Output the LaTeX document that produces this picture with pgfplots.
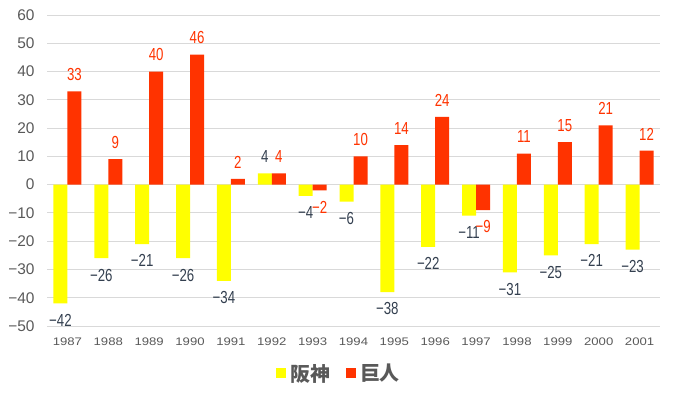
\documentclass[border=0pt]{standalone}
\usepackage{pgfplots}
\pgfplotsset{compat=1.18}
\usepackage{pgfplotstable}
\usepackage{fontspec}
\setmainfont{Liberation Sans}
\newfontfamily\numfont[FakeStretch=0.76]{Liberation Sans}
\newfontfamily\widefont[FakeStretch=1.2]{Liberation Sans}
\newfontfamily\jpfont{Noto Sans CJK JP}
\definecolor{hanshin}{HTML}{FFFF00}
\definecolor{kyojin}{HTML}{FF3300}
\definecolor{labdark}{HTML}{333F4F}
\definecolor{tickgray}{HTML}{595959}
\definecolor{gridgray}{HTML}{D9D9D9}

\pgfplotstableread{
x y lab
0 -42 −42
1 -26 −26
2 -21 −21
3 -26 −26
4 -34 −34
5 4 4
6 -4 −4
7 -6 −6
8 -38 −38
9 -22 −22
10 -11 −11
11 -31 −31
12 -25 −25
13 -21 −21
14 -23 −23
}\hanshindata

\pgfplotstableread{
x y lab
0 33 33
1 9 9
2 40 40
3 46 46
4 2 2
5 4 4
6 -2 −2
7 10 10
8 14 14
9 24 24
10 -9 −9
11 11 11
12 15 15
13 21 21
14 12 12
}\kyojindata

\begin{document}
\begin{tikzpicture}
\begin{axis}[
  scale only axis,
  width=613bp, height=311bp,
  at={(0,0)}, anchor=south west,
  ybar=0pt, bar width=14bp,
  xmin=-0.5, xmax=14.5,
  ymin=-50, ymax=60,
  ytick={-50,-40,...,60},
  yticklabels={−50,−40,−30,−20,−10,0,10,20,30,40,50,60},
  xtick={0,...,14},
  xticklabels={1987,1988,1989,1990,1991,1992,1993,1994,1995,1996,1997,1998,1999,2000,2001},
  ymajorgrids,
  grid style={gridgray, line width=1bp},
  axis line style={draw=none},
  major tick length=0pt,
  yticklabel style={font=\fontsize{15.5}{15.5}\selectfont, text=tickgray, anchor=east, xshift=-9bp},
  xticklabel style={font=\widefont\fontsize{11}{11}\selectfont, text=tickgray, anchor=north, yshift=-8bp},
  clip=false,
  point meta=explicit symbolic,
  nodes near coords,
  visualization depends on={\thisrow{y} \as \rawy},
  every node near coord/.append code={%
    \ifdim\rawy pt<0pt \pgfkeysalso{anchor=north}\else\pgfkeysalso{anchor=south}\fi},
  legend style={at={(0.478,-0.152)}, anchor=center, draw=none, fill=none,
    legend columns=2,
    font=\jpfont\bfseries\fontsize{20}{20}\selectfont, text=tickgray,
    nodes={inner xsep=4bp},
    /tikz/every even column/.append style={column sep=12bp}},
  legend image code/.code={\fill[#1] (0bp,-5bp) rectangle (10bp,5bp);},
]
\addplot[fill=hanshin, draw=none,
  every node near coord/.append style={font=\numfont\fontsize{17.5}{17.5}\selectfont, text=labdark, inner sep=10.5bp}]
  table[x=x, y=y, meta=lab] {\hanshindata};
\addlegendentry{阪神}
\addplot[fill=kyojin, draw=none,
  every node near coord/.append style={font=\numfont\fontsize{17.5}{17.5}\selectfont, text=kyojin, inner sep=10.5bp}]
  table[x=x, y=y, meta=lab] {\kyojindata};
\addlegendentry{巨人}
\end{axis}
\pgfresetboundingbox
\path (-47bp,-71bp) rectangle (627bp,326bp);
\end{tikzpicture}
\end{document}
